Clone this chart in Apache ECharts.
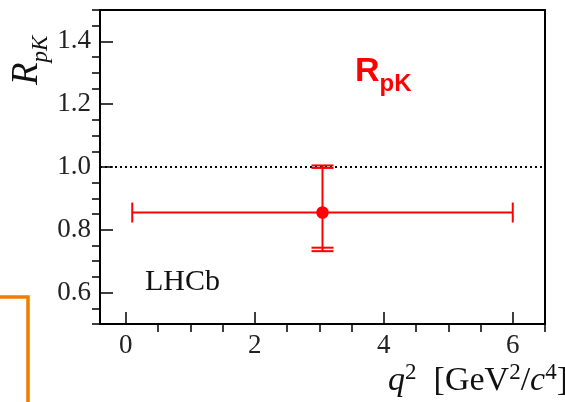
<!DOCTYPE html>
<html>
<head>
<meta charset="utf-8">
<script src="https://cdn.jsdelivr.net/npm/echarts@6/dist/echarts.min.js"></script>
<style>
  html, body { margin: 0; padding: 0; background: #fff; }
  #chart { width: 565px; height: 402px; }
</style>
</head>
<body>
<div id="chart"></div>
<script>
// R_pK measurement in the 0.1 < q^2 < 6 GeV^2/c^4 bin
const pointQ2 = [3.05];
const pointR = [0.855];
const binLow = [0.1];
const binHigh = [6.0];
const statLow = [0.743];
const statHigh = [0.997];
const totalLow = [0.732];
const totalHigh = [1.005];

// axis ranges and tick positions
const xRange = [-0.4, 6.5];
const yRange = [0.5, 1.5];
const xMajorTicks = [0, 2, 4, 6];
const xMinorTicks = [0.5, 1, 1.5, 2.5, 3, 3.5, 4.5, 5, 5.5, 6.5];
const yMajorTicks = [0.6, 0.8, 1.0, 1.2, 1.4];
const yMinorTicks = [0.5, 0.55, 0.65, 0.7, 0.75, 0.85, 0.9, 0.95, 1.05, 1.1, 1.15, 1.25, 1.3, 1.35, 1.45, 1.5];
const referenceLevel = 1.0;

const points = pointQ2.map((q, i) => [q, pointR[i], binLow[i], binHigh[i], statLow[i], statHigh[i], totalLow[i], totalHigh[i]]);

const RED = '#ff0000';
const SERIF = '"Liberation Serif", "DejaVu Serif", serif';

const chart = echarts.init(document.getElementById('chart'), null, { renderer: 'canvas' });

function renderPoint(params, api) {
  const c = api.coord([api.value(0), api.value(1)]);
  const xl = api.coord([api.value(2), api.value(1)]);
  const xh = api.coord([api.value(3), api.value(1)]);
  const sl = api.coord([api.value(0), api.value(4)]);
  const sh = api.coord([api.value(0), api.value(5)]);
  const tl = api.coord([api.value(0), api.value(6)]);
  const th = api.coord([api.value(0), api.value(7)]);
  const ls = { stroke: RED, lineWidth: 2 };
  const seg = (x1, y1, x2, y2) => ({ type: 'line', shape: { x1, y1, x2, y2 }, style: ls });
  const capW = 11, capH = 10;
  return {
    type: 'group',
    children: [
      seg(xl[0], c[1], xh[0], c[1]),
      seg(xl[0], c[1] - capH, xl[0], c[1] + capH),
      seg(xh[0], c[1] - capH, xh[0], c[1] + capH),
      seg(c[0], th[1], c[0], tl[1]),
      seg(c[0] - capW, sh[1], c[0] + capW, sh[1]),
      seg(c[0] - capW, sl[1], c[0] + capW, sl[1]),
      seg(c[0] - capW, th[1], c[0] + capW, th[1]),
      seg(c[0] - capW, tl[1], c[0] + capW, tl[1]),
      { type: 'circle', shape: { cx: c[0], cy: c[1], r: 6.3 }, style: { fill: RED } }
    ]
  };
}

const tickLabelStyle = { fontFamily: SERIF, fontSize: 27, color: '#222' };
const tickLine = { color: '#000', width: 1.5 };

chart.setOption({
  animation: false,
  backgroundColor: '#fff',
  grid: {
    left: 100, top: 10, right: 20, bottom: 78,
    show: true, borderColor: '#000', borderWidth: 2, backgroundColor: '#fff'
  },
  xAxis: [
    {
      type: 'value', min: xRange[0], max: xRange[1], position: 'bottom',
      splitLine: { show: false },
      axisLine: { show: true, onZero: false, lineStyle: { color: '#000', width: 2 } },
      axisTick: { show: true, inside: true, length: 12, customValues: xMajorTicks, lineStyle: tickLine },
      axisLabel: { show: true, customValues: xMajorTicks, margin: 8, ...tickLabelStyle }
    },
    {
      type: 'value', min: xRange[0], max: xRange[1], position: 'bottom',
      splitLine: { show: false },
      axisLine: { show: false, onZero: false },
      axisTick: { show: true, inside: false, length: 8, customValues: xMinorTicks, lineStyle: tickLine },
      axisLabel: { show: false }
    }
  ],
  yAxis: [
    {
      type: 'value', min: yRange[0], max: yRange[1], position: 'left',
      splitLine: { show: false },
      axisLine: { show: true, onZero: false, lineStyle: { color: '#000', width: 2 } },
      axisTick: { show: true, inside: true, length: 13, customValues: yMajorTicks, lineStyle: tickLine },
      axisLabel: { show: true, customValues: yMajorTicks, margin: 9, formatter: v => v.toFixed(1), ...tickLabelStyle }
    },
    {
      type: 'value', min: yRange[0], max: yRange[1], position: 'left',
      splitLine: { show: false },
      axisLine: { show: false, onZero: false },
      axisTick: { show: true, inside: false, length: 8, customValues: yMinorTicks, lineStyle: tickLine },
      axisLabel: { show: false }
    }
  ],
  series: [
    {
      type: 'custom',
      xAxisIndex: 0, yAxisIndex: 0,
      data: points,
      renderItem: renderPoint,
      z: 5,
      markLine: {
        silent: true,
        symbol: 'none',
        label: { show: false },
        lineStyle: { color: '#000', width: 2, type: [2, 3] },
        data: [{ yAxis: referenceLevel }]
      }
    }
  ],
  graphic: [
    {
      type: 'text', left: 145, top: 267,
      style: { text: 'LHCb', fontFamily: SERIF, fontSize: 30, fill: '#111' }
    },
    {
      type: 'text', x: 355, y: 48,
      style: {
        text: '{r|R}{s|pK}',
        rich: {
          r: { fontFamily: '"Liberation Sans", Arial, sans-serif', fontWeight: 'bold', fontSize: 34, lineHeight: 48, verticalAlign: 'middle', fill: RED },
          s: { fontFamily: '"Liberation Sans", Arial, sans-serif', fontWeight: 'bold', fontSize: 24, lineHeight: 24, verticalAlign: 'bottom', fill: RED }
        }
      }
    },
    {
      type: 'text', x: 2, y: 85, rotation: Math.PI / 2,
      style: {
        text: '{r|R}{s|pK}',
        rich: {
          r: { fontFamily: SERIF, fontStyle: 'italic', fontSize: 37, lineHeight: 50, verticalAlign: 'middle', fill: '#111' },
          s: { fontFamily: SERIF, fontStyle: 'italic', fontSize: 23, lineHeight: 23, verticalAlign: 'bottom', fill: '#111' }
        }
      }
    },
    {
      type: 'text', x: 568, y: 353,
      style: {
        text: '{i|q}{p|2}{m|  [GeV}{p|2}{m|/}{i|c}{p|4}{m|]}',
        align: 'right',
        rich: {
          i: { fontFamily: SERIF, fontStyle: 'italic', fontSize: 34, lineHeight: 56, verticalAlign: 'middle', fill: '#111' },
          m: { fontFamily: SERIF, fontSize: 34, lineHeight: 56, verticalAlign: 'middle', fill: '#111' },
          p: { fontFamily: SERIF, fontSize: 23, lineHeight: 23, verticalAlign: 'top', padding: [8, 0, 0, 0], fill: '#111' }
        }
      }
    },
    {
      type: 'polyline',
      shape: { points: [[0, 297], [28, 297], [28, 402]] },
      style: { stroke: '#f57a00', lineWidth: 3.5, fill: null }
    }
  ]
});
</script>
</body>
</html>
